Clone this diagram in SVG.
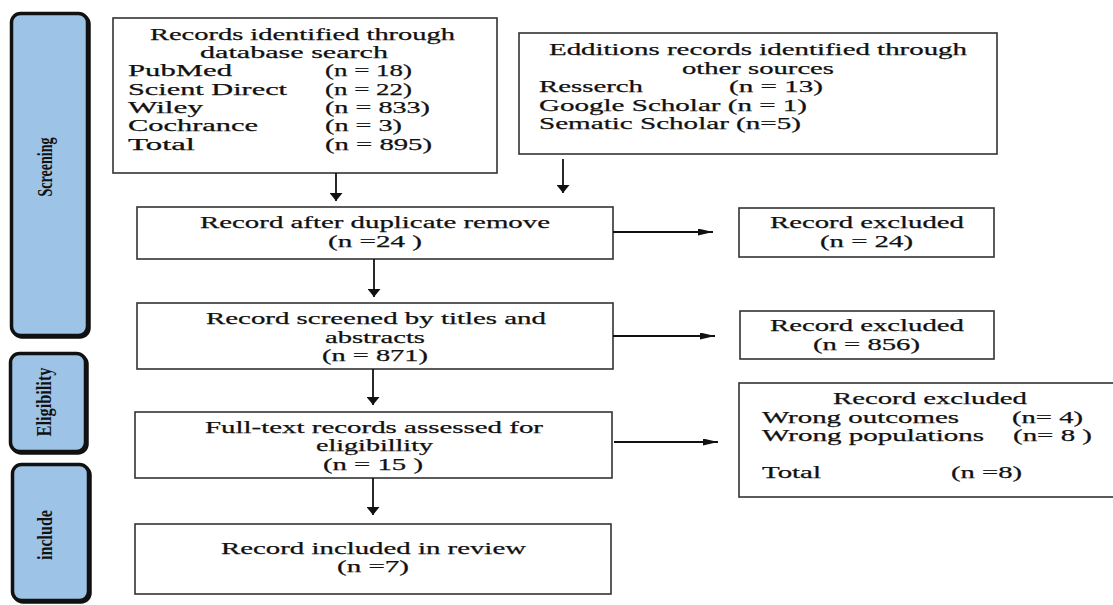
<svg xmlns="http://www.w3.org/2000/svg" width="1113" height="605" viewBox="0 0 1113 605">
<defs>
<style>
.box{fill:#fff;stroke:#333;stroke-width:1.6}
.side{fill:#9dc3e6;stroke:#111;stroke-width:3.5}
.shadow{fill:#111;stroke:#111;stroke-width:3.5}
.t{font-family:"Liberation Serif","Times New Roman",serif;font-size:17px;fill:#111;stroke:#111;stroke-width:0.25}
.s{font-family:"Liberation Serif","Times New Roman",serif;font-size:20px;font-weight:bold;fill:#111}
.c{stroke:#111;stroke-width:1.8;fill:none}
.ah{fill:#111}
</style>
<marker id="av" markerUnits="userSpaceOnUse" viewBox="0 0 8 13" markerWidth="8" markerHeight="13" refX="8" refY="6.5" orient="auto"><path class="ah" d="M0,0 L8,6.5 L0,13 z"/></marker>
<marker id="ah" markerUnits="userSpaceOnUse" viewBox="0 0 15 7" markerWidth="15" markerHeight="7" refX="15" refY="3.5" orient="auto"><path class="ah" d="M0,0 L15,3.5 L0,7 z"/></marker>
</defs>
<rect width="1113" height="605" fill="#fff"/>

<g id="stage-screening">
<rect class="shadow" x="13" y="15" width="76" height="322" rx="9"/>
<rect class="side" x="11.5" y="13.5" width="76" height="322" rx="9"/>
<text class="s" transform="translate(52,167) rotate(-90)" x="-29.5" y="0" textLength="59" lengthAdjust="spacingAndGlyphs">Screening</text>
</g>
<g id="stage-eligibility">
<rect class="shadow" x="12" y="355" width="75" height="98" rx="9"/>
<rect class="side" x="10.5" y="353.5" width="75" height="98" rx="9"/>
<text class="s" transform="translate(51,402) rotate(-90)" x="-34.5" y="0" textLength="69" lengthAdjust="spacingAndGlyphs">Eligibility</text>
</g>
<g id="stage-include">
<rect class="shadow" x="14" y="466" width="76" height="136" rx="9"/>
<rect class="side" x="12.5" y="464.5" width="76" height="136" rx="9"/>
<text class="s" transform="translate(52,535) rotate(-90)" x="-25" y="0" textLength="50" lengthAdjust="spacingAndGlyphs">include</text>
</g>

<g id="n-database">
<rect class="box" x="113" y="18" width="384" height="155"/>
<text class="t" x="150" y="39.5" textLength="305" lengthAdjust="spacingAndGlyphs">Records identified through</text>
<text class="t" x="200" y="57.5" textLength="188" lengthAdjust="spacingAndGlyphs">database search</text>
<text class="t" x="128" y="76" textLength="104" lengthAdjust="spacingAndGlyphs">PubMed</text>
<text class="t" x="325" y="76" textLength="87" lengthAdjust="spacingAndGlyphs">(n = 18)</text>
<text class="t" x="128" y="94.5" textLength="159" lengthAdjust="spacingAndGlyphs">Scient Direct</text>
<text class="t" x="325" y="94.5" textLength="87" lengthAdjust="spacingAndGlyphs">(n = 22)</text>
<text class="t" x="128" y="113" textLength="75" lengthAdjust="spacingAndGlyphs">Wiley</text>
<text class="t" x="325" y="113" textLength="105" lengthAdjust="spacingAndGlyphs">(n = 833)</text>
<text class="t" x="128" y="131" textLength="130" lengthAdjust="spacingAndGlyphs">Cochrance</text>
<text class="t" x="325" y="131" textLength="77" lengthAdjust="spacingAndGlyphs">(n = 3)</text>
<text class="t" x="128" y="149.5" textLength="67" lengthAdjust="spacingAndGlyphs">Total</text>
<text class="t" x="325" y="149.5" textLength="107" lengthAdjust="spacingAndGlyphs">(n = 895)</text>
</g>

<g id="n-other">
<rect class="box" x="519" y="33" width="478" height="121"/>
<text class="t" x="549" y="55" textLength="418" lengthAdjust="spacingAndGlyphs">Edditions records identified through</text>
<text class="t" x="682" y="73.5" textLength="152" lengthAdjust="spacingAndGlyphs">other sources</text>
<text class="t" x="539" y="92" textLength="104" lengthAdjust="spacingAndGlyphs">Resserch</text>
<text class="t" x="729" y="92" textLength="94" lengthAdjust="spacingAndGlyphs">(n = 13)</text>
<text class="t" x="539" y="110.5" textLength="268" lengthAdjust="spacingAndGlyphs">Google Scholar (n = 1)</text>
<text class="t" x="539" y="129" textLength="262" lengthAdjust="spacingAndGlyphs">Sematic Scholar (n=5)</text>
</g>

<g id="n-duplicates">
<rect class="box" x="137" y="207" width="476" height="52"/>
<text class="t" x="200" y="228" textLength="350" lengthAdjust="spacingAndGlyphs">Record after duplicate remove</text>
<text class="t" x="328" y="246.5" textLength="94" lengthAdjust="spacingAndGlyphs">(n =24 )</text>
</g>

<g id="n-excluded-1">
<rect class="box" x="739" y="208" width="255" height="49"/>
<text class="t" x="770" y="228" textLength="194" lengthAdjust="spacingAndGlyphs">Record excluded</text>
<text class="t" x="820" y="247" textLength="93" lengthAdjust="spacingAndGlyphs">(n = 24)</text>
</g>

<g id="n-screened">
<rect class="box" x="137" y="303" width="476" height="66"/>
<text class="t" x="206" y="324" textLength="340" lengthAdjust="spacingAndGlyphs">Record screened by titles and</text>
<text class="t" x="325" y="342.5" textLength="100" lengthAdjust="spacingAndGlyphs">abstracts</text>
<text class="t" x="322" y="361" textLength="106" lengthAdjust="spacingAndGlyphs">(n = 871)</text>
</g>

<g id="n-excluded-2">
<rect class="box" x="740" y="311" width="254" height="48"/>
<text class="t" x="770" y="331" textLength="194" lengthAdjust="spacingAndGlyphs">Record excluded</text>
<text class="t" x="813" y="349.5" textLength="107" lengthAdjust="spacingAndGlyphs">(n = 856)</text>
</g>

<g id="n-fulltext">
<rect class="box" x="135" y="412" width="477" height="66"/>
<text class="t" x="205" y="433" textLength="338" lengthAdjust="spacingAndGlyphs">Full-text records assessed for</text>
<text class="t" x="316" y="451" textLength="117" lengthAdjust="spacingAndGlyphs">eligibillity</text>
<text class="t" x="323" y="469.5" textLength="100" lengthAdjust="spacingAndGlyphs">(n = 15 )</text>
</g>

<g id="n-excluded-3">
<rect class="box" x="739" y="383" width="380" height="114"/>
<text class="t" x="833" y="404" textLength="194" lengthAdjust="spacingAndGlyphs">Record excluded</text>
<text class="t" x="762" y="423" textLength="197" lengthAdjust="spacingAndGlyphs">Wrong outcomes</text>
<text class="t" x="1012" y="423" textLength="71" lengthAdjust="spacingAndGlyphs">(n= 4)</text>
<text class="t" x="762" y="441" textLength="222" lengthAdjust="spacingAndGlyphs">Wrong populations</text>
<text class="t" x="1013" y="441" textLength="79" lengthAdjust="spacingAndGlyphs">(n= 8 )</text>
<text class="t" x="762" y="478" textLength="59" lengthAdjust="spacingAndGlyphs">Total</text>
<text class="t" x="951" y="478" textLength="71" lengthAdjust="spacingAndGlyphs">(n =8)</text>
</g>

<g id="n-included">
<rect class="box" x="135" y="524" width="476" height="70"/>
<text class="t" x="221" y="553.5" textLength="305" lengthAdjust="spacingAndGlyphs">Record included in review</text>
<text class="t" x="337" y="572" textLength="72" lengthAdjust="spacingAndGlyphs">(n =7)</text>
</g>

<g id="connectors">
<path class="c" d="M336,173 V201" marker-end="url(#av)"/>
<path class="c" d="M563,159 V193" marker-end="url(#av)"/>
<path class="c" d="M374,259 V297" marker-end="url(#av)"/>
<path class="c" d="M373,369 V405" marker-end="url(#av)"/>
<path class="c" d="M373,478 V515" marker-end="url(#av)"/>
<path class="c" d="M613,232 H713" marker-end="url(#ah)"/>
<path class="c" d="M613,336 H715" marker-end="url(#ah)"/>
<path class="c" d="M614,442 H718" marker-end="url(#ah)"/>
</g>
</svg>
